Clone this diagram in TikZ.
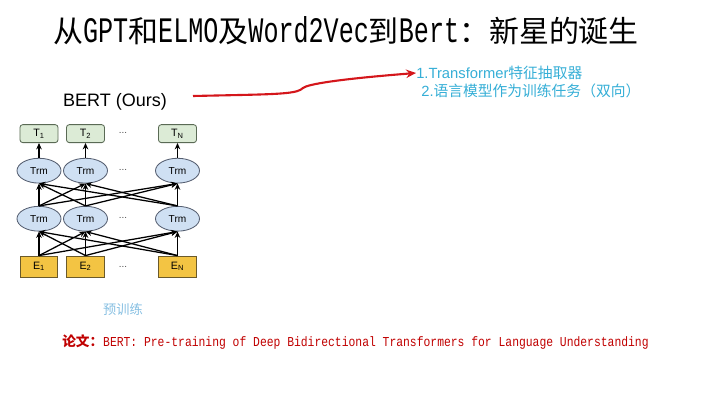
\documentclass[tikz,border=0pt]{standalone}
\usepackage{fontspec}
\usepackage{xcolor}
\usetikzlibrary{arrows.meta, shapes.geometric, positioning}

\setmainfont{Liberation Sans}
\newfontfamily\cjk{Noto Sans CJK SC}
\newfontfamily\halfmono[FakeStretch=0.833]{Liberation Mono}
\newfontfamily\titlemono[FakeStretch=0.7]{Liberation Mono}
\newcommand{\zh}[1]{{\cjk\fontsize{21.3}{24}\selectfont #1}}

\definecolor{tgreen}{HTML}{DCEBD6}
\definecolor{tborder}{HTML}{5A6A55}
\definecolor{trmblue}{HTML}{CFE0F3}
\definecolor{trmborder}{HTML}{555E70}
\definecolor{egold}{HTML}{F3C443}
\definecolor{eborder}{HTML}{6B5A2A}
\definecolor{itemcyan}{HTML}{35AED6}
\definecolor{pretrain}{HTML}{86BFE2}
\definecolor{paperred}{HTML}{C00000}
\definecolor{arrowred}{HTML}{D4161B}

\begin{document}
\begin{tikzpicture}[
  x=0.025cm, y=-0.025cm,
  every node/.style={inner sep=0pt},
  tbox/.style={rectangle, rounded corners=2pt, draw=tborder, fill=tgreen,
               line width=0.6pt, minimum width=0.95cm, minimum height=0.45cm,
               font=\fontsize{7.6}{8}\selectfont},
  trm/.style={ellipse, draw=trmborder, fill=trmblue, line width=0.6pt,
              minimum width=1.1cm, minimum height=0.62cm,
              font=\fontsize{7.2}{8}\selectfont},
  ebox/.style={rectangle, draw=eborder, fill=egold, line width=0.6pt,
               minimum width=0.93cm, minimum height=0.525cm,
               font=\fontsize{7.6}{8}\selectfont},
  dots/.style={font=\fontsize{7}{8}\selectfont, text=black!70},
  arr/.style={-{Stealth[length=4.5pt, width=4pt]}, line width=0.9pt},
  redarr/.style={-{Stealth[length=7pt, width=6pt]}, line width=1.5pt, draw=arrowred},
]
\useasboundingbox (0,0) rectangle (720,405);

% title
\node (title) at (346,31) {\titlemono\fontsize{25.5}{28}\selectfont
  \zh{从}GPT\zh{和}ELMO\zh{及}Word2Vec\zh{到}Bert\zh{：新星的诞生}};

% BERT figure
\node[font=\fontsize{12.8}{14}\selectfont] (bert) at (115,102) {BERT (Ours)};

\node[ebox] (e1) at (39,266.5)    {E\textsubscript{1}};
\node[ebox] (e2) at (85.5,266.5)  {E\textsubscript{2}};
\node[ebox] (en) at (177.5,266.5) {E\textsubscript{N}};

\node[trm, above=0.6cm of e1] (l1) {Trm};
\node[trm, above=0.6cm of e2] (l2) {Trm};
\node[trm, above=0.6cm of en] (ln) {Trm};

\node[trm, above=0.56cm of l1] (u1) {Trm};
\node[trm, above=0.56cm of l2] (u2) {Trm};
\node[trm, above=0.56cm of ln] (un) {Trm};

\node[tbox, above=0.37cm of u1] (t1) {T\textsubscript{1}};
\node[tbox, above=0.37cm of u2] (t2) {T\textsubscript{2}};
\node[tbox, above=0.37cm of un] (tn) {T\textsubscript{N}};

\node[dots] (dt) at (123,133)   {...};
\node[dots] (du) at (123,170)   {...};
\node[dots] (dl) at (123,218)   {...};
\node[dots] (de) at (123,267)   {...};

\foreach \s in {e1,e2,en}
  \foreach \d in {l1,l2,ln}
    \draw[arr] (\s.north) -- (\d.south);
\foreach \s in {l1,l2,ln}
  \foreach \d in {u1,u2,un}
    \draw[arr] (\s.north) -- (\d.south);
\draw[arr] (u1) -- (t1);
\draw[arr] (u2) -- (t2);
\draw[arr] (un) -- (tn);

\node[text=pretrain, font=\cjk\fontsize{9.4}{11}\selectfont] (pre) at (123,309) {预训练};

% features
\node[anchor=west, text=itemcyan, font=\fontsize{10.5}{12}\selectfont] (item1) at (416,73)
  {1.Transformer{\cjk 特征抽取器}};
\node[anchor=west, text=itemcyan, font=\fontsize{10.5}{12}\selectfont] (item2) at (421,91)
  {2.{\cjk 语言模型作为训练任务（双向）}};

\coordinate (redstart) at (193,96);
\draw[redarr] (redstart) -- (240,95) .. controls (285,94) and (298,93) .. (303,88)
  .. controls (308,84) and (340,79) .. (item1.west);

% paper
\node[anchor=west, text=paperred] (paper) at (62,342) {\halfmono\fontsize{9.7}{12}\selectfont
  {\cjk\bfseries 论文：}BERT: Pre-training of Deep Bidirectional Transformers for Language Understanding};
\end{tikzpicture}
\end{document}
